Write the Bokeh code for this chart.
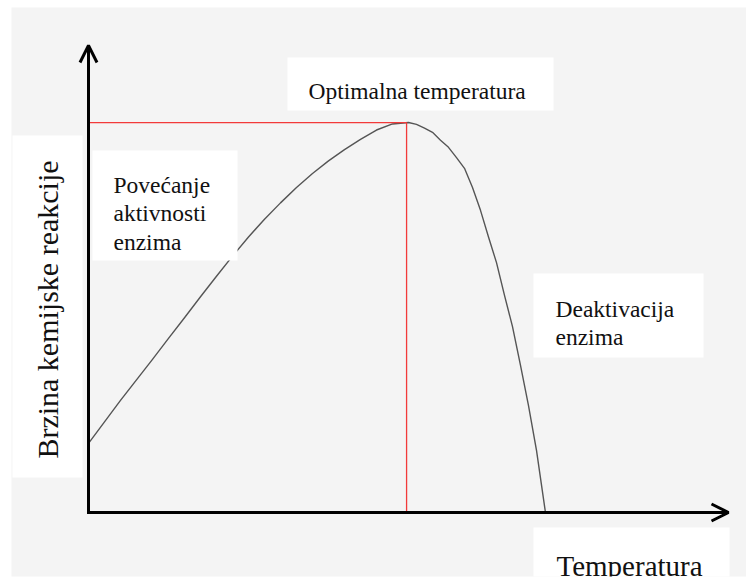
from bokeh.plotting import figure
from bokeh.models import Range1d, Label, BoxAnnotation, Arrow, OpenHead
from bokeh.embed import file_html
from bokeh.resources import INLINE
import math

# ---- data ----
temperature = [0, 2.5, 5, 7.5, 10, 12.5, 15, 17.5, 20, 22.5, 25, 27.5, 30,
               32.5, 35, 37.5, 40, 42.5, 45, 47.5, 50, 51.25, 52.5, 53.75,
               55, 56.25, 57.5, 58.75, 60, 61.25, 62.5, 63.75, 65, 66.25,
               67.5, 68.75, 70, 71.4]
rate = [14.8, 19.4, 24.0, 28.4, 32.8, 37.3, 41.7, 46.2, 50.6, 54.9, 59.0, 62.8,
        66.3, 69.6, 72.6, 75.3, 77.7, 79.9, 81.9, 83.2, 83.5, 83.1, 82.3, 81.4,
        79.7, 78.2, 76.0, 73.7, 69.6, 64.7, 59.0, 53.5, 46.5, 39.8,
        31.5, 22.9, 13.3, 0.0]
t_opt = 49.7
r_opt = 83.5
axis_max_t = 100.0
axis_max_r = 100.0

y_title = "Brzina kemijske reakcije"
x_title = "Temperatura"
opt_text = "Optimalna temperatura"
rise_lines = ["Povećanje", "aktivnosti", "enzima"]
fall_lines = ["Deaktivacija", "enzima"]

# ---- layout helpers (page pixels -> data) ----
SX = 6.4      # px per temperature unit
SY = 4.67     # px per rate unit
X0, Y0 = 88.0, 512.0   # page pixel of origin


def dx(px):
    return (px - X0) / SX


def dy(py):
    return (Y0 - py) / SY


FRAME_L, FRAME_R, FRAME_T, FRAME_B = 11, 746, 7, 576

p = figure(width=746, height=586, output_backend="svg", toolbar_location=None,
           x_range=Range1d(dx(FRAME_L), dx(FRAME_R)),
           y_range=Range1d(dy(FRAME_B), dy(FRAME_T)),
           x_axis_type=None, y_axis_type=None,
           min_border=0, min_border_left=11, min_border_bottom=10,
           min_border_top=7, min_border_right=0)
p.background_fill_color = "#f4f4f4"
p.border_fill_color = "white"
p.outline_line_color = None
p.grid.visible = False

# curve and optimum lines
p.line(temperature, rate, line_color="#555555", line_width=1.4,
       line_join="round")
p.line([0, t_opt], [r_opt, r_opt], line_color="#f23a3a", line_width=1.3)
p.line([t_opt, t_opt], [0, r_opt], line_color="#f23a3a", line_width=1.3)

# axes with arrows
p.add_layout(Arrow(end=OpenHead(size=17, line_width=3, line_color="black"),
                   x_start=0, y_start=dy(513.5), x_end=0, y_end=axis_max_r,
                   line_width=3, line_color="black"))
p.add_layout(Arrow(end=OpenHead(size=17, line_width=3, line_color="black"),
                   x_start=dx(86.5), y_start=0, x_end=axis_max_t, y_end=0,
                   line_width=3, line_color="black"))


def box(l, r, t, b):
    p.add_layout(BoxAnnotation(left=dx(l), right=dx(r), top=dy(t), bottom=dy(b),
                               fill_color="white", fill_alpha=1.0,
                               line_color=None))


box(12, 82, 135, 477)
box(287, 553, 57, 110)
box(92, 237, 150, 260)
box(533, 703, 273, 357)
box(533, 729, 527, 578)

FONT = "Liberation Serif"


def label(text, px, py, size, align="left", angle=0.0):
    p.add_layout(Label(x=dx(px), y=dy(py), text=text, text_font=FONT,
                       text_font_size=size, text_color="#111111",
                       text_align=align, text_baseline="alphabetic",
                       angle=angle))


label(opt_text, 308, 90, "23.5px")
for i, t in enumerate(rise_lines):
    label(t, 113, 184 + 28.5 * i, "23.5px")
for i, t in enumerate(fall_lines):
    label(t, 555, 308 + 28 * i, "23.5px")
label(x_title, 556, 565, "29px")
label(y_title, 47, 309, "30px", align="center", angle=math.pi / 2)

open("out.html", "w").write(file_html(p, INLINE))
